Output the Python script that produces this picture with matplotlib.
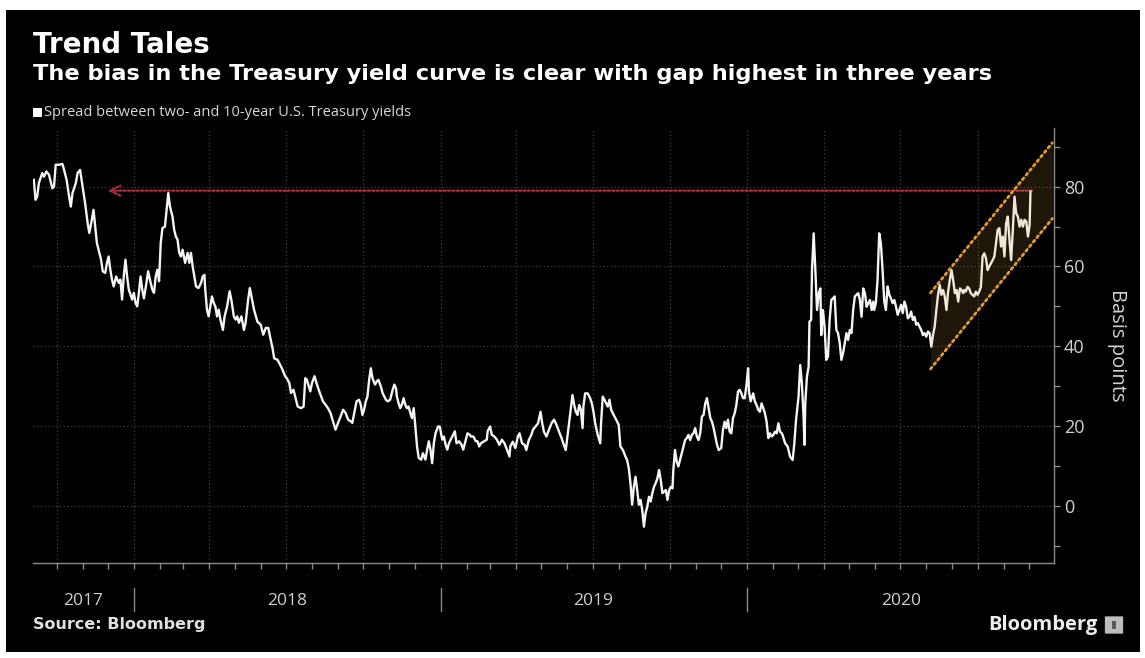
import matplotlib
matplotlib.use("Agg")
import matplotlib.pyplot as plt
import matplotlib.dates as mdates
from matplotlib.patches import Rectangle, FancyBboxPatch
from matplotlib.ticker import MultipleLocator
import numpy as np
import pandas as pd

# spread between 2y and 10y treasury yields, basis points
START = "2017-08-25"
days = [10, 12, 14, 16, 20, 22, 25, 28, 32, 34, 36, 40, 44, 46, 49, 52, 54, 56, 60, 62,
        65, 68, 71, 74, 76, 79, 81, 83, 85, 87, 90, 92, 95, 97, 99, 101, 103, 105, 108, 111,
        113, 115, 117, 119, 121, 123, 127, 129, 131, 133, 135, 137, 139, 141, 144, 146, 149, 151, 153, 155,
        157, 159, 161, 163, 166, 168, 170, 172, 175, 177, 179, 181, 183, 185, 187, 190, 193, 195, 197, 199,
        201, 203, 206, 209, 211, 213, 214, 216, 218, 220, 222, 224, 226, 228, 230, 232, 235, 237, 240, 243,
        245, 248, 250, 252, 254, 257, 260, 262, 265, 267,
        272, 276, 280, 283, 286, 289, 291, 294, 296, 300, 303, 306, 309, 311, 314, 316, 319, 322, 324, 328,
        331, 333, 335, 336, 339, 341, 344, 347, 349, 352, 354, 357, 360, 363, 366, 369, 372, 375, 378, 381,
        384, 387, 389, 392, 394, 397, 399, 401, 403, 405, 407, 409, 411, 413, 416, 418, 420, 423, 425, 429,
        431, 434, 437, 439, 441, 442, 444, 446, 448, 450, 452, 454, 456, 458, 460, 462, 464, 466, 468, 471,
        473, 476, 478, 480, 482, 484, 486, 488, 491, 493, 496, 498, 500, 502, 504, 506, 508, 511, 513, 516,
        519, 521, 524, 526, 529, 530, 533, 536, 538, 540, 542, 546, 549, 550, 553, 555, 558, 561, 564, 567,
        570, 573, 576,
        577, 580, 583, 586, 588, 591, 594, 596, 599, 602, 604, 607, 610, 613, 615, 617, 620, 623, 626, 629,
        632, 635, 638, 640, 643, 645, 647, 649, 651, 653, 655, 657, 659, 661, 663, 664, 666, 669, 672, 674,
        676, 678, 681, 684, 685, 687, 690, 693, 695, 697, 700, 703, 706, 708, 711, 714, 716, 718, 720, 722,
        724, 726, 728, 730, 732, 734, 736, 738, 740, 742, 744, 746, 748, 750, 752, 754, 756, 758, 760, 762,
        764, 766, 768, 770, 771, 773, 775, 777, 779, 781, 783, 785, 787, 789, 791, 793, 795, 797, 799, 801,
        803, 805, 807, 809, 811, 813, 815, 817, 819, 821, 823, 825, 828, 830, 832, 834, 836, 838, 840, 842,
        844, 846, 848, 850, 852, 854, 856, 858, 860, 861, 863, 866, 868, 870, 872, 874, 876, 878, 880, 882,
        884, 886, 888, 890, 892, 894, 896, 898, 900,
        901, 904, 907, 910, 913, 915, 917, 920, 922, 924, 926, 927, 928, 930, 932, 933, 935, 936, 938, 940,
        942, 944, 946, 947, 949, 951, 953, 955, 957, 959, 961, 963, 965, 967, 969, 971, 973, 975, 977, 979,
        981, 983, 985, 987, 989, 991, 993, 995, 997, 999, 1001, 1003, 1005, 1007, 1009, 1010, 1012, 1014, 1016, 1018,
        1020, 1022, 1024, 1026, 1028, 1030, 1032, 1034, 1036, 1038, 1040, 1042, 1044, 1046, 1048, 1050, 1052, 1054, 1056, 1058,
        1060, 1062, 1064, 1066, 1068, 1070, 1072, 1074, 1076, 1078, 1080, 1082, 1084, 1086, 1088, 1090, 1092, 1094, 1096, 1098,
        1100, 1102, 1104, 1106, 1108, 1110, 1112, 1114, 1116, 1117, 1119, 1121, 1123, 1125, 1127, 1129, 1131, 1133, 1135, 1137,
        1139, 1141, 1143, 1145, 1147, 1149, 1151, 1153, 1155, 1157, 1159, 1161, 1163, 1165, 1167, 1169, 1171, 1173, 1175, 1177,
        1179, 1181, 1183, 1185, 1187, 1189, 1191, 1193, 1195, 1196]

spread = [81.7, 76.7, 77.5, 80.9, 83.4, 82.5, 83.8, 83.0, 79.6, 80.0, 85.5, 85.5, 85.7, 84.2, 81.7, 77.5, 75.0, 78.4, 80.9, 83.4,
          84.2, 80.0, 75.9, 70.9, 68.4, 71.7, 74.2, 70.0, 65.9, 64.2, 61.7, 58.8, 58.4, 60.9, 62.5, 59.2, 56.7, 55.0, 57.5, 55.9,
          56.7, 51.7, 57.5, 61.7, 57.5, 54.2, 51.7, 53.4, 50.9, 50.0, 53.4, 57.5, 54.2, 52.0, 55.9, 58.8, 55.9, 54.2, 53.4, 57.5,
          59.2, 56.3, 65.9, 69.6, 70.0, 74.2, 78.4, 75.0, 72.5, 69.2, 67.5, 66.7, 63.4, 62.5, 64.2, 60.9, 63.4, 60.9, 63.4, 60.0,
          57.5, 55.0, 54.6, 55.9, 57.5, 57.9, 54.2, 49.2, 47.5, 50.0, 52.5, 50.9, 50.0, 47.5, 49.2, 46.7, 44.1, 47.5, 50.0, 53.8,
          51.7, 47.5, 46.7, 47.5, 45.9, 47.5, 44.1, 45.9, 51.7, 54.6,
          49.2, 46.2, 45.4, 42.9, 44.6, 44.6, 42.5, 39.6, 37.0, 36.6, 35.4, 34.1, 32.5, 32.0, 30.8, 28.3, 29.1, 26.6, 24.9, 24.5,
          24.9, 32.0, 31.6, 30.8, 28.7, 30.8, 32.5, 30.4, 29.1, 27.4, 26.2, 25.4, 24.5, 23.3, 21.2, 19.1, 20.8, 22.4, 24.1, 23.3,
          21.6, 21.2, 20.8, 24.1, 26.2, 26.6, 25.4, 22.8, 24.1, 26.2, 27.4, 31.6, 34.5, 32.0, 30.4, 31.2, 31.6, 29.9, 28.3, 26.6,
          26.2, 26.6, 29.1, 30.4, 29.5, 27.4, 25.8, 24.5, 25.4, 27.0, 25.4, 24.5, 24.9, 23.3, 22.0, 24.5, 19.9, 14.9, 12.0, 11.6,
          13.2, 11.6, 14.1, 16.2, 14.1, 10.7, 15.7, 18.2, 19.9, 19.9, 16.6, 17.4, 15.3, 14.1, 15.7, 16.6, 17.4, 18.7, 15.7, 16.2,
          15.3, 14.1, 16.6, 18.2, 17.8, 17.4, 17.4, 16.2, 16.2, 14.9, 15.7, 16.2, 16.6, 18.7, 19.9, 17.8, 17.4, 16.6, 15.3, 16.6,
          15.7, 14.1, 12.4,
          14.9, 16.1, 14.5, 17.4, 18.2, 15.7, 15.3, 14.0, 16.5, 17.8, 19.1, 19.9, 20.7, 23.6, 20.7, 18.6, 17.4, 19.1, 20.7, 21.6,
          20.3, 18.6, 17.0, 15.7, 14.0, 17.4, 20.7, 24.1, 27.8, 25.3, 23.6, 22.8, 25.3, 24.1, 19.5, 24.9, 28.2, 28.2, 27.0, 25.7,
          23.6, 20.7, 17.8, 15.7, 20.7, 27.4, 26.2, 24.9, 26.6, 24.1, 22.8, 21.6, 20.3, 14.9, 14.0, 12.4, 11.5, 9.4, 5.7, 0.3,
          4.8, 7.3, 4.0, 0.3, 1.5, -1.0, -5.2, -1.8, -0.2, 2.3, 1.1, 3.2, 4.8, 5.7, 6.9, 9.0, 6.5, 3.2, 3.6, 4.0,
          1.5, 4.0, 4.8, 4.4, 9.0, 14.0, 11.1, 9.9, 11.5, 13.2, 14.9, 16.5, 17.0, 17.8, 16.5, 17.8, 18.2, 19.5, 17.4, 16.5,
          18.2, 22.4, 22.8, 25.7, 27.0, 24.5, 22.0, 21.1, 19.5, 17.4, 15.3, 14.0, 14.5, 19.0, 21.1, 19.5, 21.6, 18.6, 18.2, 22.0,
          23.2, 25.3, 28.7, 29.1, 28.2, 27.0, 27.0, 30.3, 34.5, 28.7, 26.2, 28.2, 26.2, 25.3, 24.1, 23.6, 25.7, 24.5, 23.2, 21.1,
          17.0, 18.2, 17.4, 17.8, 18.6, 18.2, 20.7, 18.6, 18.2,
          17.8, 15.7, 14.9, 12.3, 11.5, 15.7, 21.5, 27.4, 35.3, 30.7, 22.4, 15.3, 25.7, 32.4, 34.9, 46.2, 46.6, 59.1, 68.3, 59.1,
          49.1, 53.3, 54.5, 42.8, 49.1, 44.9, 36.6, 37.4, 46.6, 51.6, 52.0, 52.5, 44.1, 43.3, 40.8, 36.6, 38.3, 40.8, 43.3, 41.6,
          44.1, 43.3, 49.1, 52.5, 52.9, 53.3, 51.6, 47.4, 54.5, 53.3, 49.9, 50.8, 51.6, 49.1, 51.2, 49.1, 50.8, 56.6, 68.3, 65.8,
          59.1, 51.2, 49.1, 55.0, 52.9, 52.0, 50.8, 51.6, 49.9, 47.9, 49.1, 50.4, 48.3, 51.2, 49.9, 47.0, 47.4, 48.7, 46.6, 47.4,
          45.4, 45.8, 44.9, 44.1, 42.8, 43.3, 42.4, 43.7, 43.3, 39.9, 42.8, 44.9, 49.1, 52.9, 55.4, 52.9, 54.1, 52.5, 49.1, 53.7,
          56.6, 59.1, 56.6, 53.3, 54.1, 51.2, 54.5, 54.1, 53.3, 54.1, 53.7, 54.9, 54.5, 53.3, 52.9, 52.5, 53.7, 52.9, 53.7, 54.9,
          62.5, 63.3, 62.1, 59.1, 60.0, 60.8, 61.6, 62.5, 65.8, 69.2, 69.6, 65.0, 67.5, 62.5, 70.8, 72.5, 66.7, 61.6, 69.2, 77.5,
          73.3, 72.5, 70.0, 71.7, 70.0, 71.7, 71.3, 67.5, 70.4, 78.8]

# trend channel drawn over the last months
channel_dates = ["2020-08-06", "2020-12-29"]
channel_upper = [53.4, 91.0]
channel_lower = [34.3, 72.0]

# reference level arrow (back to the 2018 high)
arrow_dates = ["2017-12-01", "2020-12-05"]
arrow_level = 79.0

year_labels = ["2017", "2018", "2019", "2020"]
year_label_dates = ["2017-11-02", "2018-07-02", "2019-07-02", "2020-07-02"]
year_breaks = ["2018-01-01", "2019-01-01", "2020-01-01"]
y_ticks = [0, 20, 40, 60, 80]

dates = pd.Timestamp(START) + pd.to_timedelta(days, unit="D")
ch_x = pd.to_datetime(channel_dates)
W, H = 1145, 658

plt.rcParams['font.family'] = ['DejaVu Sans']
fig = plt.figure(figsize=(W / 100, H / 100), dpi=100, facecolor="white")
# black card behind everything
fig.patches.append(Rectangle((6 / W, 1 - 652 / H), 1134 / W, 642 / H, transform=fig.transFigure,
                             facecolor="black", edgecolor="none", zorder=-10))

ax = fig.add_axes([33 / W, 1 - 563 / H, (1054 - 33) / W, (563 - 128) / H])
ax.set_zorder(2)
ax.patch.set_alpha(0)

ax.plot(dates, spread, color="#f4f4f4", lw=1.7, zorder=3, solid_joinstyle="round")

# channel
ax.fill_between(ch_x, channel_lower, channel_upper, color="#d4a040", alpha=0.14, lw=0, zorder=4)
for edge in (channel_upper, channel_lower):
    ax.plot(ch_x, edge, color="#e39b2e", lw=2.0, linestyle=(0, (0.8, 1.3)),
            dash_capstyle="round", zorder=5)

# red arrow
ax.annotate("", xy=(pd.Timestamp(arrow_dates[0]), arrow_level),
            xytext=(pd.Timestamp(arrow_dates[1]), arrow_level),
            arrowprops=dict(arrowstyle="->", color="#a8303f", lw=1.6, linestyle=(0, (1, 1)),
                            shrinkA=0, shrinkB=0, mutation_scale=18),
            zorder=2)

ax.set_xlim(pd.Timestamp("2017-09-03"), pd.Timestamp("2020-12-31"))
ax.set_ylim(-14.3, 94.7)

# grid
ax.xaxis.set_major_locator(mdates.MonthLocator(bymonth=[1, 4, 7, 10]))
ax.xaxis.set_minor_locator(mdates.MonthLocator())
ax.xaxis.set_major_formatter(plt.NullFormatter())
ax.set_yticks(y_ticks)
ax.yaxis.set_minor_locator(MultipleLocator(10))
ax.grid(True, which="major", color="#404040", lw=0.9, linestyle=(0, (1, 2)))
ax.set_axisbelow(True)

for s in ("top", "left"):
    ax.spines[s].set_visible(False)
for s in ("right", "bottom"):
    ax.spines[s].set_color("#8a8a8a")
    ax.spines[s].set_linewidth(1.0)

ax.yaxis.tick_right()
ax.tick_params(axis="y", which="both", colors="#8a8a8a", length=4, width=1, direction="out",
               labelcolor="#d2d2d2", labelsize=13, pad=3)
ax.tick_params(axis="x", which="both", colors="#8a8a8a", length=4, width=1, direction="out")
for lab in ax.get_yticklabels():
    lab.set_family("Open Sans")

ax.text(1.052, 0.5, "Basis points", transform=ax.transAxes, rotation=270, color="#d2d2d2",
        fontsize=14.5, family="Open Sans", ha="left", va="center")

# year labels and separators
trans = ax.get_xaxis_transform()
for lab, d in zip(year_labels, year_label_dates):
    ax.text(pd.Timestamp(d), -0.087, lab, transform=trans, ha="center", va="center",
            color="#cfcfcf", fontsize=12.5, family="Open Sans")
for d in year_breaks:
    ax.plot([pd.Timestamp(d)] * 2, [-0.058, -0.11], transform=trans, color="#8a8a8a",
            lw=1, clip_on=False)

# titles
fig.text(33 / W, 1 - 53 / H, "Trend Tales", color="white", fontsize=20, fontweight="bold",
         ha="left", va="baseline")
fig.text(33 / W, 1 - 80 / H, "The bias in the Treasury yield curve is clear with gap highest in three years",
         color="white", fontsize=16.2, fontweight="bold", ha="left", va="baseline")
fig.patches.append(Rectangle((33 / W, 1 - 117 / H), 9 / W, 9 / H, transform=fig.transFigure,
                             facecolor="white", edgecolor="none"))
fig.text(44 / W, 1 - 112.5 / H, "Spread between two- and 10-year U.S. Treasury yields",
         color="#d8d8d8", fontsize=10.5, family="Open Sans", ha="left", va="center")

fig.text(33 / W, 1 - 625 / H, "Source: Bloomberg", color="#e0e0e0", fontsize=11.5,
         fontweight="bold", ha="left", va="center")
fig.text(1097 / W, 1 - 625 / H, "Bloomberg", color="#eeeeee", fontsize=14.5, fontweight="bold",
         family="Open Sans", ha="right", va="center")
fig.patches.append(FancyBboxPatch((1106 / W, 1 - 633 / H), 16 / W, 16 / H,
                                  boxstyle="round,pad=0.001", transform=fig.transFigure,
                                  facecolor="#bdbdbd", edgecolor="none"))
fig.patches.append(Rectangle((1112 / W, 1 - 629 / H), 4 / W, 8 / H, transform=fig.transFigure,
                             facecolor="#5a5a5a", edgecolor="none"))

fig.savefig("out.png", dpi=100, facecolor="white")
